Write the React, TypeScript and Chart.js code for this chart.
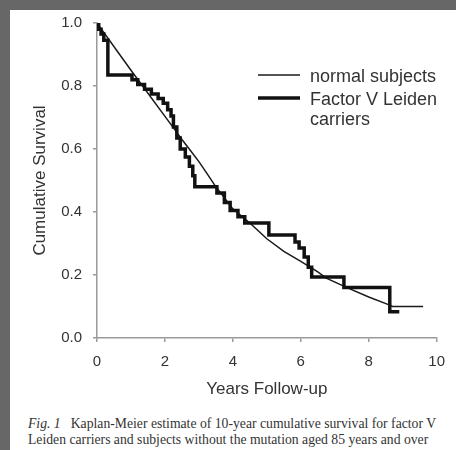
import React, { useEffect, useRef } from "react";
import { Chart, registerables } from "chart.js";

Chart.register(...registerables);

// ---- data ----
const normalYears = [0, 1.0, 2.3, 2.5, 2.75, 3.0, 3.25, 3.5, 4.0, 4.5, 5.0, 5.5, 6.0, 6.5, 6.75, 7.36, 8.0, 8.6, 8.7, 9.6];
const normalSurvival = [1.0, 0.85, 0.66, 0.63, 0.595, 0.56, 0.52, 0.48, 0.41, 0.365, 0.315, 0.275, 0.243, 0.21, 0.19, 0.16, 0.13, 0.105, 0.1, 0.1];

const fvlYears = [0, 0.05, 0.12, 0.2, 0.32, 1.03, 1.2, 1.4, 1.6, 1.8, 1.95, 2.08, 2.18, 2.25, 2.35, 2.45, 2.6, 2.72, 2.82, 2.88, 3.53, 3.75, 3.92, 4.15, 4.35, 5.06, 5.83, 5.95, 6.1, 6.22, 6.32, 7.27, 8.62, 8.9];
const fvlSurvival = [1.0, 0.98, 0.965, 0.945, 0.835, 0.82, 0.805, 0.79, 0.775, 0.76, 0.745, 0.725, 0.705, 0.67, 0.635, 0.6, 0.575, 0.545, 0.515, 0.48, 0.46, 0.43, 0.405, 0.385, 0.365, 0.327, 0.305, 0.286, 0.257, 0.225, 0.194, 0.16, 0.083, 0.083];

const xTicks = [0, 2, 4, 6, 8, 10];
const yTicks = [0, 0.2, 0.4, 0.6, 0.8, 1.0];

const seriesLabels = ["normal subjects", "Factor V Leiden carriers"];
const legendTextLines = [["normal subjects"], ["Factor V Leiden", "carriers"]];
const xTitle = "Years Follow-up";
const yTitle = "Cumulative Survival";
const captionLead = "Fig. 1";
const captionLine1 = "Kaplan-Meier estimate of 10-year cumulative survival for factor V";
const captionLine2 = "Leiden carriers and subjects without the mutation aged 85 years and over";

const SANS = "'Liberation Sans', Arial, sans-serif";
const TEXT = "#333333";
const AXIS = "#9a9a9a";

const legendPlugin = {
  id: "kmLegend",
  afterDraw(chart: any) {
    const ctx = chart.ctx;
    ctx.save();
    const lineX0 = 258;
    const lineX1 = 300;
    const textX = 310;
    const rowY = [75, 98];
    chart.data.datasets.forEach((ds: any, i: number) => {
      const y = rowY[i];
      ctx.strokeStyle = ds.borderColor;
      ctx.lineWidth = ds.borderWidth;
      ctx.beginPath();
      ctx.moveTo(lineX0, y);
      ctx.lineTo(lineX1, y);
      ctx.stroke();
      ctx.fillStyle = TEXT;
      ctx.font = `18px ${SANS}`;
      ctx.textBaseline = "alphabetic";
      ctx.textAlign = "left";
      legendTextLines[i].forEach((t, j) => {
        ctx.fillText(t, textX, y + 7 + j * 20);
      });
    });
    ctx.restore();
  },
};

export default function App() {
  const ref = useRef<HTMLCanvasElement | null>(null);

  useEffect(() => {
    if (!ref.current) return;
    const chart = new Chart(ref.current, {
      type: "line",
      data: {
        datasets: [
          {
            label: seriesLabels[0],
            data: normalYears.map((x, i) => ({ x, y: normalSurvival[i] })),
            borderColor: "#1a1a1a",
            borderWidth: 1.5,
            pointRadius: 0,
            tension: 0,
            fill: false,
            order: 2,
          },
          {
            label: seriesLabels[1],
            data: fvlYears.map((x, i) => ({ x, y: fvlSurvival[i] })),
            borderColor: "#111111",
            borderWidth: 3.5,
            pointRadius: 0,
            stepped: "before",
            fill: false,
            order: 1,
          },
        ],
      },
      options: {
        responsive: false,
        animation: false,
        devicePixelRatio: 1,
        layout: { padding: { top: 23, right: 11, left: 0, bottom: 0 } },
        plugins: { legend: { display: false }, tooltip: { enabled: false } },
        scales: {
          x: {
            type: "linear",
            min: 0,
            max: 10,
            afterBuildTicks: (s: any) => {
              s.ticks = xTicks.map((v) => ({ value: v }));
            },
            afterFit: (s: any) => {
              s.height = 410 - 338;
            },
            ticks: {
              color: TEXT,
              font: { size: 15, family: SANS },
              padding: 11,
              callback: (v: any) => String(v),
              maxRotation: 0,
            },
            grid: { drawOnChartArea: false, drawTicks: true, tickLength: 4, color: AXIS, lineWidth: 1.5 },
            border: { display: true, color: AXIS, width: 1.5 },
            title: { display: true, text: xTitle, color: TEXT, font: { size: 17, family: SANS }, padding: 10 },
          },
          y: {
            type: "linear",
            min: 0,
            max: 1,
            afterBuildTicks: (s: any) => {
              s.ticks = yTicks.map((v) => ({ value: v }));
            },
            afterFit: (s: any) => {
              s.width = 97;
            },
            ticks: {
              color: TEXT,
              font: { size: 15, family: SANS },
              padding: 11,
              callback: (v: any) => Number(v).toFixed(1),
            },
            grid: { drawOnChartArea: false, drawTicks: true, tickLength: 4, color: AXIS, lineWidth: 1.5 },
            border: { display: true, color: AXIS, width: 1.5 },
            title: { display: true, text: yTitle, color: TEXT, font: { size: 17, family: SANS }, padding: 30 },
          },
        },
      },
      plugins: [legendPlugin],
    } as any);
    return () => chart.destroy();
  }, []);

  return (
    <div style={{ position: "fixed", left: 0, top: 0, width: 456, height: 450, background: "#676767", overflow: "hidden" }}>
      <div style={{ position: "absolute", left: 10, top: 10, width: 446, height: 440, background: "#ffffff" }} />
      <canvas ref={ref} width={456} height={410} style={{ position: "absolute", left: 0, top: 0, width: 456, height: 410 }} />
      <div
        style={{
          position: "absolute",
          left: 28,
          top: 416,
          width: 428,
          overflow: "hidden",
          whiteSpace: "nowrap",
          fontFamily: "'Liberation Serif', 'Times New Roman', serif",
          fontSize: 13.7,
          lineHeight: "16px",
          color: "#333",
        }}
      >
        <div>
          <i>{captionLead}</i>
          <span style={{ marginLeft: 10 }}>{captionLine1}</span>
        </div>
        <div>{captionLine2}</div>
      </div>
    </div>
  );
}
